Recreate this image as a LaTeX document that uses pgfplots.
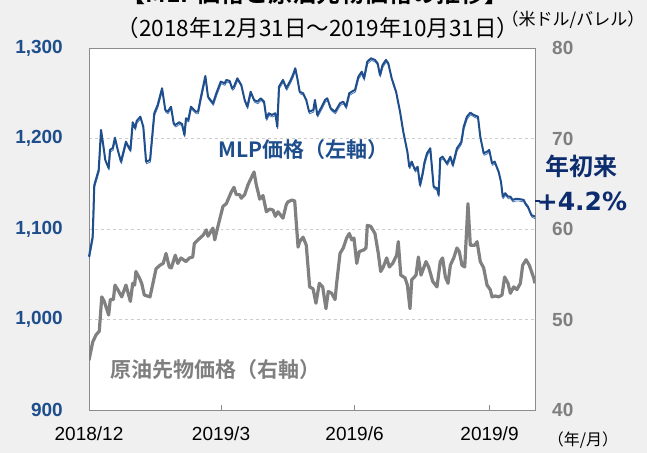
\documentclass[border=0pt]{standalone}
\usepackage{pgfplots}
\usepackage{pgfplotstable}
\pgfplotsset{compat=1.18}
\usepackage{fontspec}
\setmainfont{Liberation Sans}
\newfontfamily\jp{Noto Sans CJK JP}[BoldFont={Noto Sans CJK JP Bold}]
\newfontfamily\dv{DejaVu Sans}
\definecolor{bg}{HTML}{F0F0F0}
\definecolor{mlp}{HTML}{1F4E8C}
\definecolor{mlpl}{HTML}{4A78B8}
\definecolor{navy}{HTML}{0C2C6E}
\definecolor{oil}{HTML}{808080}
\definecolor{oiltxt}{HTML}{7F7F7F}
\definecolor{gridc}{HTML}{CCCCCC}
\definecolor{framec}{HTML}{8C8C8C}

\pgfplotstableread{
d v
0 1069.4
2.5 1091.5
3.6 1148.6
6.6 1165.2
8.2 1209.4
9.7 1192.8
11.1 1176.3
13.4 1167.4
14.3 1187.3
16.2 1189.5
17.7 1200.9
19.6 1187.3
21.8 1174.4
25.2 1196.5
26.8 1191.0
28.2 1187.3
29.8 1217.9
31.4 1211.6
32.5 1219.3
35.0 1224.1
37.0 1213.0
38.9 1174.4
41.6 1176.3
44.5 1227.9
46.8 1237.0
49.8 1255.5
52.0 1231.5
53.6 1229.6
55.9 1235.1
57.7 1216.8
58.8 1214.9
61.5 1217.9
63.4 1216.0
65.0 1203.9
66.1 1222.3
67.7 1220.5
69.5 1235.1
72.9 1229.6
74.3 1229.6
76.1 1244.4
79.3 1269.1
81.1 1246.2
84.5 1238.9
86.8 1250.0
89.8 1262.8
92.5 1261.0
93.6 1264.7
95.9 1263.5
97.5 1255.5
98.8 1257.3
101.1 1266.5
103.8 1259.1
106.1 1242.6
107.9 1235.1
110.2 1251.7
112.5 1242.6
114.7 1240.7
117.0 1244.4
119.3 1240.7
120.9 1222.3
122.5 1227.9
124.7 1226.0
127.0 1227.9
128.3 1213.0
129.5 1257.3
132.2 1264.7
134.5 1255.5
137.5 1264.7
139.0 1270.2
140.6 1277.6
142.0 1266.5
143.6 1251.7
145.9 1250.0
148.1 1242.6
150.0 1229.6
152.9 1231.5
154.0 1242.6
155.6 1226.0
158.6 1235.1
160.9 1242.6
162.4 1244.4
164.7 1233.4
167.7 1229.6
171.1 1238.9
173.3 1240.7
175.2 1235.1
177.4 1250.0
179.9 1252.5
181.3 1253.6
183.6 1268.3
185.9 1273.8
187.4 1266.5
189.7 1284.9
192.2 1288.6
194.9 1286.8
196.7 1283.1
198.3 1270.2
200.1 1281.2
202.4 1286.8
204.0 1283.1
206.3 1266.5
209.3 1251.7
212.0 1229.6
214.2 1207.5
217.0 1185.4
218.3 1168.8
220.0 1174.4
222.2 1165.2
224.0 1168.8
225.6 1148.6
227.4 1161.6
228.7 1174.0
230.4 1183.7
232.6 1189.2
234.9 1146.7
237.2 1145.0
238.3 1137.6
239.4 1178.1
241.0 1179.9
244.0 1172.6
246.3 1179.9
247.9 1170.7
250.8 1189.2
252.4 1192.8
253.8 1196.5
255.4 1213.0
257.6 1224.1
259.9 1228.5
262.2 1226.0
265.1 1224.1
266.7 1202.0
269.0 1183.7
271.3 1185.4
272.8 1187.3
274.7 1172.6
276.5 1174.4
279.2 1163.3
280.8 1152.3
282.0 1135.7
283.7 1139.5
285.6 1135.7
287.2 1135.7
288.8 1132.1
290.6 1133.2
292.9 1133.2
296.3 1132.1
297.4 1128.4
299.2 1124.6
301.5 1115.5
304.0 1113.6
}\mlptable

\pgfplotstableread{
d o
0 45.5
2.5 47.5
4.8 48.3
7.0 48.7
8.7 52.5
10.4 52.0
13.4 50.5
14.5 52.2
16.6 52.2
17.7 53.8
19.6 53.3
22.3 52.5
25.2 53.8
28.2 52.0
29.8 54.0
31.1 53.8
32.0 55.3
34.3 54.6
35.9 54.0
37.7 52.7
41.6 52.5
45.7 55.6
48.4 56.0
50.6 56.2
52.5 57.3
54.7 55.8
56.1 55.7
58.8 57.1
60.5 56.2
62.7 56.8
66.1 56.4
68.4 56.8
70.7 56.9
71.8 58.4
74.3 58.8
77.7 59.3
80.0 59.9
81.1 59.2
84.5 60.1
85.7 58.8
87.9 60.3
91.3 62.5
93.6 62.8
97.0 64.1
98.8 64.6
100.4 63.8
102.7 63.8
103.8 63.4
106.1 63.8
108.4 64.9
112.5 66.3
114.0 64.9
116.4 63.3
118.6 63.7
120.9 61.9
123.2 62.2
125.4 62.1
127.0 61.4
128.8 61.9
132.2 61.2
134.5 62.7
135.6 63.0
138.4 63.2
140.2 63.1
142.5 58.0
143.6 58.6
145.9 59.1
148.1 58.2
150.4 53.6
152.7 53.4
154.7 51.8
157.0 54.0
159.3 53.6
161.5 51.2
163.1 53.1
165.4 52.9
167.7 52.2
168.8 54.0
171.1 57.3
173.3 57.9
175.6 59.0
177.4 59.5
179.1 58.8
180.6 59.0
182.5 56.2
184.2 57.5
187.4 57.7
188.8 57.9
189.7 60.4
192.0 60.3
194.9 59.5
197.2 57.3
198.8 55.3
200.6 55.8
202.9 56.8
204.7 55.8
207.0 56.2
209.7 57.1
210.8 58.6
212.5 54.9
215.4 54.6
217.0 53.8
218.8 51.2
220.0 54.4
222.9 54.9
224.5 56.9
226.3 54.9
229.7 56.4
231.5 55.8
234.3 54.2
237.2 53.6
239.4 56.4
241.0 56.8
242.9 54.7
244.7 54.0
246.3 56.0
248.6 56.8
250.8 57.9
252.4 57.5
254.2 56.0
256.1 55.8
258.3 62.8
259.9 58.2
262.9 58.2
264.5 58.6
266.7 56.4
269.0 55.7
271.3 53.8
273.5 53.3
274.7 52.5
276.9 52.6
279.2 52.5
281.5 52.7
283.3 54.7
285.6 54.0
287.2 52.9
289.5 53.6
291.7 53.3
294.0 54.0
295.6 56.0
297.9 56.6
300.1 56.0
303.1 54.6
304.0 54.0
}\oiltable

\begin{document}
\begin{tikzpicture}[x=1bp,y=1bp]
\fill[bg] (-89,-43) rectangle (558,410);
\useasboundingbox (-89,-43) rectangle (558,410);
\begin{axis}[
  at={(0,0)}, anchor=south west,
  scale only axis, width=446bp, height=362bp,
  xmin=0, xmax=304, ymin=900, ymax=1300,
  axis background/.style={fill=white},
  axis line style={framec, line width=0.9bp},
  ytick={900,1000,1100,1200,1300},
  ytick style={draw=none},
  ymajorgrids,
  grid style={gridc, dashed, line width=0.6bp},
  yticklabel style={font=\fontsize{19bp}{19bp}\selectfont\bfseries, text=mlp,
    anchor=east, inner sep=0pt, xshift=-26bp,
    /pgf/number format/1000 sep={,}, /pgf/number format/assume math mode=true},
  xtick={0,90,181,273},
  xticklabels={2018/12,2019/3,2019/6,2019/9},
  xtick pos=bottom,
  tick align=inside,
  major tick length=5bp,
  xtick style={framec, line width=0.6bp},
  xticklabel style={font=\fontsize{19bp}{19bp}\selectfont, text=black,
    anchor=north, inner sep=0pt, yshift=-17bp},
  clip=false,
]
\addplot[mlpl, line width=0.8bp, line join=round, yshift=-2.1bp, xshift=0.4bp] table[x=d,y=v] {\mlptable};
\addplot[mlp, line width=2bp, line join=round] table[x=d,y=v] {\mlptable};
\end{axis}
\begin{axis}[
  at={(0,0)}, anchor=south west,
  scale only axis, width=446bp, height=362bp,
  xmin=0, xmax=304, ymin=40, ymax=80,
  hide x axis,
  axis y line*=right,
  y axis line style={draw=none},
  ytick={40,50,60,70,80},
  ytick style={draw=none},
  yticklabel style={font=\fontsize{19bp}{19bp}\selectfont\bfseries, text=oiltxt,
    anchor=west, inner sep=0pt, xshift=17bp,
    /pgf/number format/assume math mode=true},
]
\addplot[oil, line width=3.2bp, line join=round] table[x=d,y=o] {\oiltable};
\end{axis}
% annotations
\node[anchor=west, inner sep=0pt, text=mlp] at (129,260) {\fontsize{21bp}{21bp}\selectfont\jp\bfseries MLP価格（左軸）};
\node[anchor=west, inner sep=0pt, text=oiltxt] at (21,40) {\fontsize{21bp}{21bp}\selectfont\jp\bfseries 原油先物価格（右軸）};
\node[inner sep=0pt, text=navy] at (492,244) {\fontsize{24bp}{24bp}\selectfont\jp\bfseries 年初来};
\node[inner sep=0pt, text=navy] at (493,209) {\fontsize{25bp}{25bp}\selectfont\dv\bfseries +4.2\%};
\draw[navy, line width=2.5bp] (446,209) -- (451,209);
\node[inner sep=0pt, text=black] at (229,382) {\fontsize{22.5bp}{22.5bp}\selectfont\jp （2018年12月31日～2019年10月31日）};
\node[inner sep=0pt, text=black] at (484,390) {\fontsize{17bp}{17bp}\selectfont\jp （米ドル/バレル）};
\node[inner sep=0pt, text=black] at (494,-30) {\fontsize{16bp}{16bp}\selectfont\jp （年/月）};
\node[anchor=base, inner sep=0pt, text=black] at (226,407) {\fontsize{24bp}{24bp}\selectfont\jp\bfseries 【MLP価格と原油先物価格の推移】};
\end{tikzpicture}
\end{document}
